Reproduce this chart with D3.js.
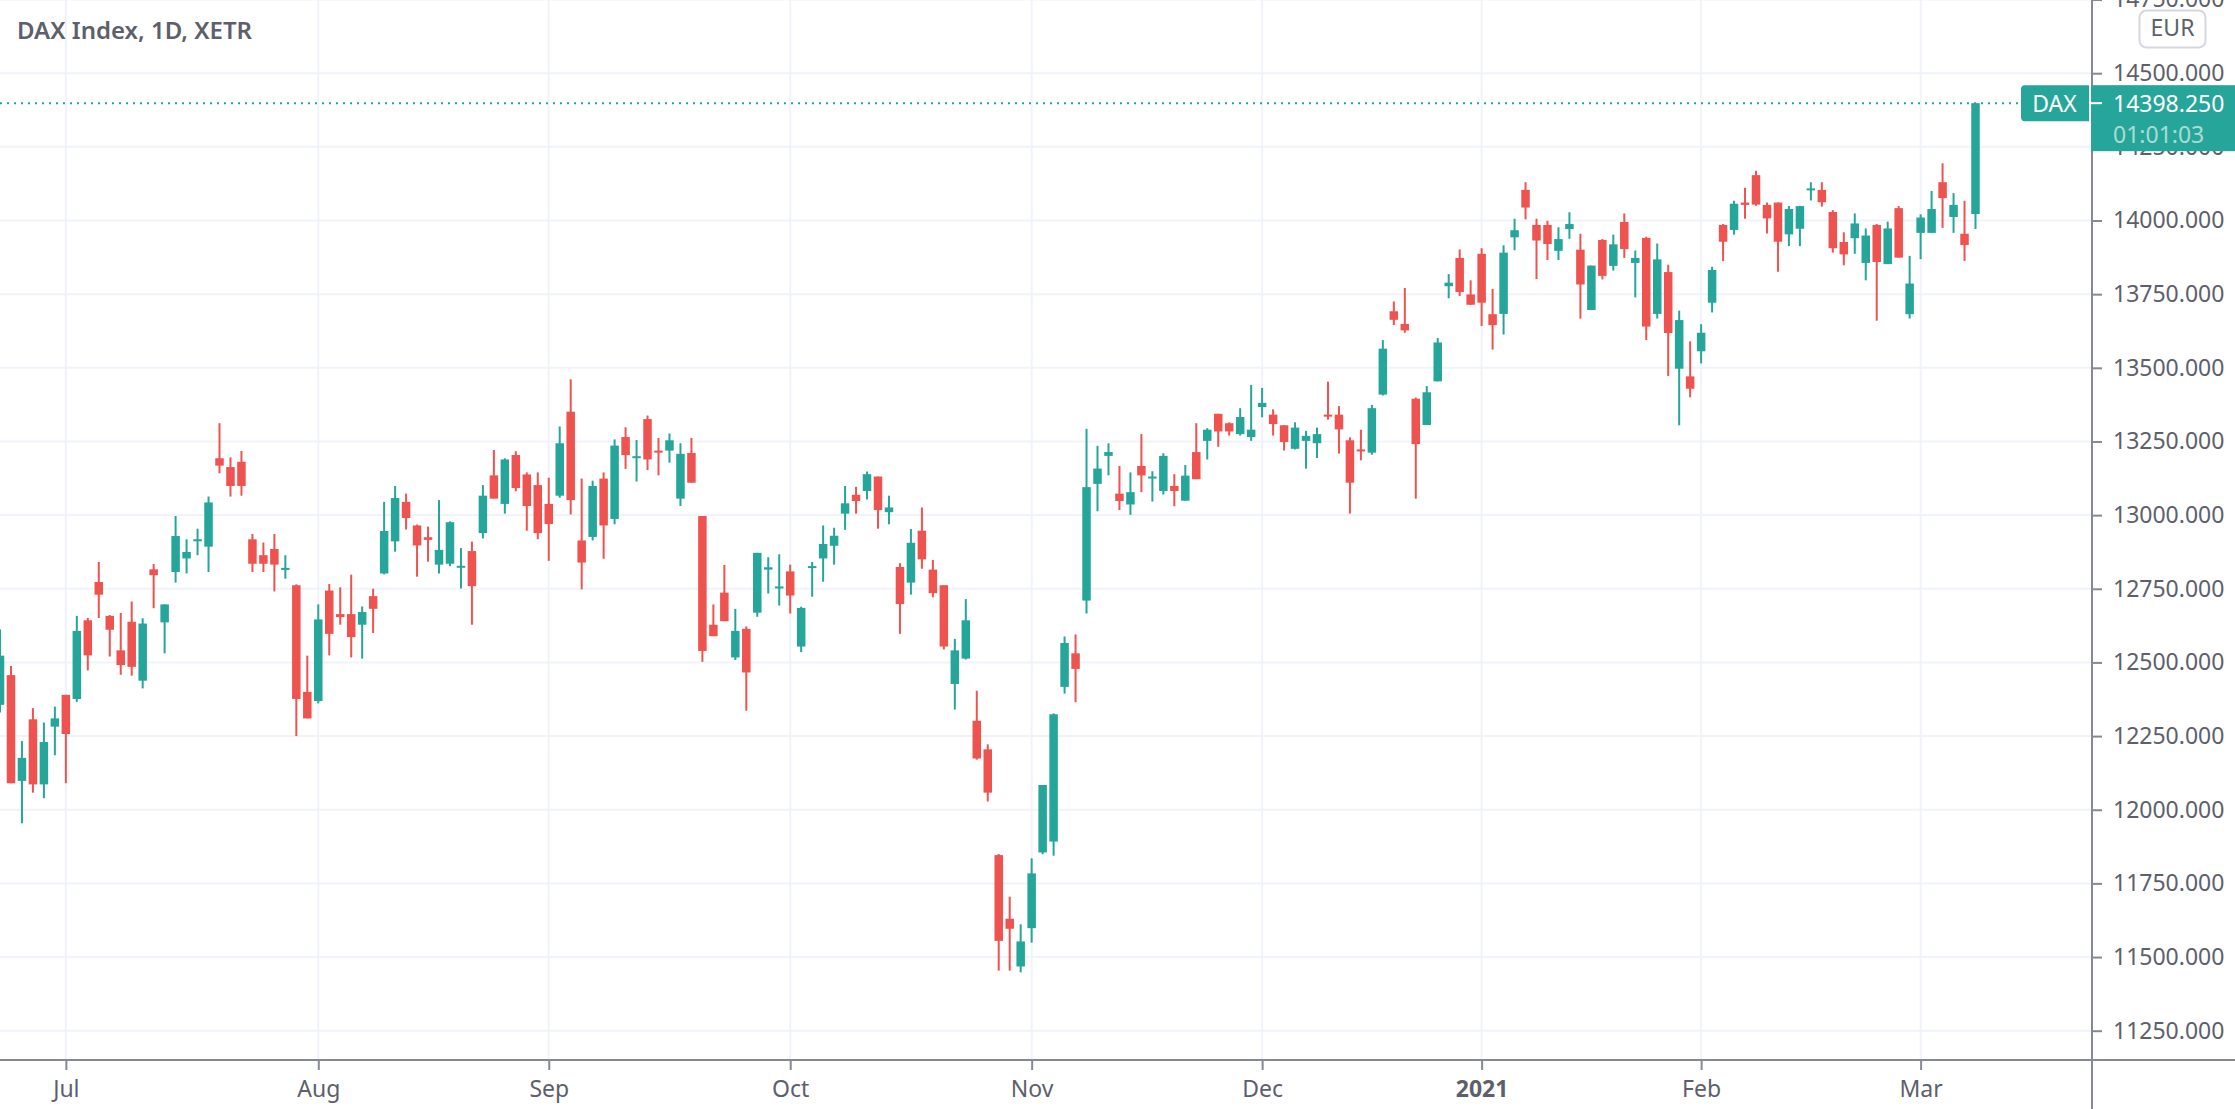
<!DOCTYPE html>
<html>
<head>
<meta charset="utf-8">
<script src="https://d3js.org/d3.v7.min.js"></script>
<style>
	html, body { margin:0; padding:0; background:#fff; overflow:hidden; }
	svg { display:block; }
	text { font-family:"Noto Sans", sans-serif; }
</style>
</head>
<body>
<svg id="chart" width="2235" height="1109"></svg>
<script>

var opens = [
	12356,12457,12098,12307,12086,12282,12390,12376,12643,12773,
	12658,12541,12638,12438,12816,12636,12807,12853,12912,12893,
	13193,13163,13181,12918,12864,12885,12814,12762,12400,12369,
	12744,12664,12664,12628,12725,12802,12911,13045,12965,12925,
	12832,12835,12824,12878,12939,13135,13038,13204,13138,13102,
	13038,13066,13351,12914,12926,13124,12987,13265,13195,13326,
	13219,13219,13056,13211,12997,12628,12737,12517,12614,12669,
	12815,12753,12809,12554,12822,12853,12896,13005,13069,13082,
	13131,13010,12824,12771,12947,12815,12762,12427,12513,12302,
	12205,11846,11630,11468,11598,11855,11892,12417,12531,12710,
	13106,13201,13073,13036,13167,13125,13082,13099,13049,13214,
	13252,13344,13312,13275,13265,13367,13341,13305,13225,13252,
	13244,13341,13341,13254,13223,13212,13409,13692,13649,13395,
	13306,13454,13777,13873,13749,13887,13682,13683,13943,14104,
	13985,13985,13897,13971,13901,13696,13934,13846,13995,13856,
	13941,13683,13825,13497,13471,13556,13721,13985,13968,14061,
	14154,14053,14061,13953,13972,14105,14104,14029,13927,13940,
	13856,13985,13852,14042,13682,13958,13958,14130,14012,13955,
	14022
];

var highs = [
	12612,12488,12233,12345,12296,12350,12390,12658,12651,12841,
	12661,12668,12707,12650,12834,12697,12997,12918,12954,13063,
	13312,13196,13218,12936,12907,12936,12864,12765,12523,12697,
	12766,12755,12798,12690,12750,13045,13099,13073,12968,12961,
	13051,12979,12888,12910,13102,13221,13193,13217,13145,13145,
	13127,13301,13461,13124,13117,13145,13257,13298,13255,13338,
	13262,13277,13244,13262,12997,12697,12831,12682,12622,12872,
	12857,12867,12832,12689,12841,12965,12957,13099,13096,13148,
	13131,13066,12837,12953,13026,12848,12762,12580,12715,12404,
	12222,11850,11705,11611,11835,12084,12327,12588,12595,13293,
	13235,13244,13167,13145,13275,13149,13210,13139,13170,13312,
	13295,13344,13315,13363,13442,13432,13359,13305,13315,13286,
	13297,13453,13370,13264,13290,13374,13594,13725,13771,13399,
	13438,13601,13818,13902,13797,13906,13768,13916,14006,14130,
	14006,13999,13977,14028,13955,13847,13937,13952,14024,13898,
	13945,13922,13850,13694,13590,13648,13843,13988,14067,14111,
	14169,14061,14061,14049,14050,14130,14130,14035,13960,14024,
	13973,13988,13996,14049,13880,14021,14100,14194,14093,14067,
	14398.25
];

var lows = [
	12330,12090,11954,12058,12039,12185,12090,12366,12473,12651,
	12520,12458,12455,12412,12684,12531,12771,12802,12864,12807,
	13142,13063,13066,12807,12807,12741,12784,12250,12310,12361,
	12524,12628,12517,12513,12600,12799,12876,12951,12791,12842,
	12802,12827,12751,12628,12921,13056,13005,13081,12947,12918,
	12845,13059,13002,12748,12914,12852,12969,13157,13114,13153,
	13135,13178,13031,13110,12502,12589,12640,12508,12336,12655,
	12734,12693,12666,12535,12723,12774,12832,12950,13005,13053,
	12954,12969,12597,12730,12818,12721,12544,12340,12510,12170,
	12028,11454,11454,11448,11549,11849,11844,12394,12365,12666,
	13013,13135,13017,13001,13078,13046,13070,13030,13049,13122,
	13189,13232,13270,13270,13252,13332,13270,13219,13223,13158,
	13194,13324,13209,13005,13186,13205,13406,13645,13619,13056,
	13306,13454,13736,13744,13714,13642,13562,13613,13899,14004,
	13801,13866,13866,13938,13667,13696,13800,13830,13873,13739,
	13594,13667,13472,13305,13400,13515,13688,13862,13952,14006,
	14050,13956,13826,13913,13913,14068,14047,13891,13848,13887,
	13797,13660,13852,13874,13667,13869,13958,13975,13958,13863,
	13971
];

var closes = [
	12523,12090,12176,12086,12230,12310,12257,12607,12524,12730,
	12611,12491,12485,12632,12796,12697,12929,12875,12918,13043,
	13168,13099,13099,12835,12835,12832,12821,12376,12310,12646,
	12597,12654,12586,12671,12682,12946,13058,12990,12897,12916,
	12882,12976,12828,12759,13066,13056,13189,13092,13031,12939,
	12970,13244,13051,12839,13099,12965,13236,13204,13200,13189,
	13214,13254,13208,13110,12539,12589,12640,12607,12466,12872,
	12823,12758,12727,12685,12827,12902,12930,13040,13048,13139,
	13017,13026,12698,12906,12850,12735,12554,12541,12643,12174,
	12058,11555,11596,11553,11784,12084,12324,12566,12478,13095,
	13158,13214,13048,13078,13135,13131,13201,13082,13134,13122,
	13290,13284,13284,13333,13290,13381,13309,13248,13297,13269,
	13275,13335,13291,13110,13218,13363,13565,13663,13627,13241,
	13417,13586,13789,13757,13714,13721,13645,13891,13967,14044,
	13932,13920,13937,13988,13783,13847,13812,13919,13903,13873,
	13640,13868,13618,13662,13429,13619,13832,13928,14057,14053,
	14054,14007,13928,14039,14049,14109,14062,13906,13885,13990,
	13949,13859,13973,13874,13786,14010,14039,14076,14053,13917,
	14398.25
];

// index of the first session of each month, and its axis label
var monthStarts = [6, 29, 50, 72, 94, 115, 135, 155, 175];
var monthLabels = ['Jul', 'Aug', 'Sep', 'Oct', 'Nov', 'Dec', '2021', 'Feb', 'Mar'];

var priceTicks = [11250, 11500, 11750, 12000, 12250, 12500, 12750, 13000, 13250, 13500, 13750, 14000, 14250, 14500, 14750];

var title = 'DAX Index, 1D, XETR';
var symbol = 'DAX';
var currency = 'EUR';
var countdown = '01:01:03';
var lastPrice = closes[closes.length - 1];

var width = 2235,
	height = 1109,
	plotRight = 2092,
	plotBottom = 1060;

var colors = {
	up: '#26a69a',
	down: '#ef5350',
	grid: '#f0f3fa',
	axis: '#868993',
	text: '#5d606b'
};

var x = d3.scaleLinear()
	.domain([0, 180])
	.range([0, 1975.5]);

var y = d3.scaleLinear()
	.domain([11250, 14500])
	.range([1030.7, 73.2]);

var svg = d3.select('#chart');

svg.append('rect')
	.attr('width', width)
	.attr('height', height)
	.attr('fill', '#fff');

svg.append('defs')
	.append('clipPath')
	.attr('id', 'plotClip')
	.append('rect')
	.attr('width', plotRight)
	.attr('height', plotBottom);


// grid

var grid = svg.append('g')
	.attr('clip-path', 'url(#plotClip)');

grid.selectAll('.hGrid')
	.data(priceTicks)
	.enter()
	.append('line')
	.attr('class', 'hGrid')
	.attr('x1', 0)
	.attr('x2', plotRight)
	.attr('y1', d=>y(d))
	.attr('y2', d=>y(d))
	.attr('stroke', colors.grid)
	.attr('stroke-width', 2);

grid.selectAll('.vGrid')
	.data(monthStarts)
	.enter()
	.append('line')
	.attr('class', 'vGrid')
	.attr('x1', d=>x(d))
	.attr('x2', d=>x(d))
	.attr('y1', 0)
	.attr('y2', plotBottom)
	.attr('stroke', colors.grid)
	.attr('stroke-width', 2);


// last price line

svg.append('line')
	.attr('x1', 0)
	.attr('x2', 2021)
	.attr('y1', y(lastPrice))
	.attr('y2', y(lastPrice))
	.attr('stroke', colors.up)
	.attr('stroke-width', 2)
	.attr('stroke-dasharray', '2 5');


// candles

var candles = svg.append('g')
	.attr('clip-path', 'url(#plotClip)')
	.selectAll('g')
	.data(closes)
	.enter()
	.append('g')
	.attr('fill', (d,i)=> d >= opens[i] ? colors.up : colors.down);

candles.append('rect')
	.attr('x', (d,i)=>x(i) - 1)
	.attr('width', 2)
	.attr('y', (d,i)=>y(highs[i]))
	.attr('height', (d,i)=>y(lows[i]) - y(highs[i]));

candles.append('rect')
	.attr('x', (d,i)=>x(i) - 4.25)
	.attr('width', 8.5)
	.attr('y', (d,i)=>y(Math.max(d, opens[i])))
	.attr('height', (d,i)=>Math.max(y(Math.min(d, opens[i])) - y(Math.max(d, opens[i])), 2));


// axes

var priceAxis = svg.append('g')
	.attr('transform', `translate(${plotRight},0)`)
	.call(d3.axisRight(y)
		.tickValues(priceTicks)
		.tickSize(10)
		.tickPadding(11)
		.tickFormat(d3.format('.3f'))
	);

var timeAxis = svg.append('g')
	.attr('transform', `translate(0,${plotBottom})`)
	.call(d3.axisBottom(x)
		.tickValues(monthStarts)
		.tickSize(10)
		.tickPadding(11)
		.tickFormat((d,i)=>monthLabels[i])
	);

for (axis of [priceAxis, timeAxis]) {
	axis.select('.domain').remove();
	axis.selectAll('line')
		.attr('stroke', colors.axis)
		.attr('stroke-width', 2);
	axis.selectAll('text')
		.attr('fill', colors.text)
		.style('font-family', '"Noto Sans", sans-serif')
		.style('font-size', '23px');
}

timeAxis.selectAll('text')
	.style('font-weight', d=> d === 135 ? 700 : 400);

svg.append('line')
	.attr('x1', plotRight)
	.attr('x2', plotRight)
	.attr('y1', 0)
	.attr('y2', height)
	.attr('stroke', colors.axis)
	.attr('stroke-width', 2);

svg.append('line')
	.attr('x1', 0)
	.attr('x2', width)
	.attr('y1', plotBottom)
	.attr('y2', plotBottom)
	.attr('stroke', colors.axis)
	.attr('stroke-width', 2);


// title and currency button

svg.append('text')
	.attr('x', 17)
	.attr('y', 39)
	.attr('fill', colors.text)
	.style('font-size', '24px')
	.style('font-weight', 600)
	.text(title);

svg.append('rect')
	.attr('x', 2139.5)
	.attr('y', 10.5)
	.attr('width', 66)
	.attr('height', 37)
	.attr('rx', 7)
	.attr('fill', '#fff')
	.attr('stroke', '#d6d8e0')
	.attr('stroke-width', 2);

svg.append('text')
	.attr('x', 2172.5)
	.attr('y', 36)
	.attr('text-anchor', 'middle')
	.attr('fill', colors.text)
	.style('font-size', '23px')
	.text(currency);


// last price labels

var lastY = y(lastPrice);

svg.append('path')
	.attr('d', `M2089,${lastY - 18} H2025 a4,4 0 0 0 -4,4 V${lastY + 14} a4,4 0 0 0 4,4 H2089 Z`)
	.attr('fill', colors.up);

svg.append('text')
	.attr('x', 2054.5)
	.attr('y', lastY + 8.5)
	.attr('text-anchor', 'middle')
	.attr('fill', '#fff')
	.style('font-size', '23px')
	.text(symbol);

svg.append('rect')
	.attr('x', 2091)
	.attr('y', lastY - 18)
	.attr('width', width - 2091)
	.attr('height', 66)
	.attr('fill', colors.up);

svg.append('line')
	.attr('x1', 2091)
	.attr('x2', 2102)
	.attr('y1', lastY)
	.attr('y2', lastY)
	.attr('stroke', '#fff')
	.attr('stroke-width', 2);

svg.append('text')
	.attr('x', 2113)
	.attr('y', lastY + 8.5)
	.attr('fill', '#fff')
	.style('font-size', '23px')
	.text(d3.format('.3f')(lastPrice));

svg.append('text')
	.attr('x', 2113)
	.attr('y', lastY + 39.5)
	.attr('fill', '#fff')
	.attr('fill-opacity', 0.62)
	.style('font-size', '23px')
	.text(countdown);

</script>
</body>
</html>
